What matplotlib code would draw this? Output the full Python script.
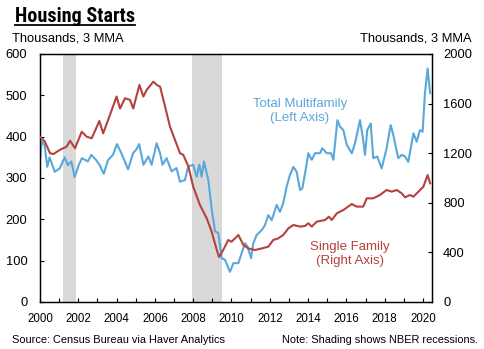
import numpy as np
import matplotlib
matplotlib.use('Agg')
import matplotlib.pyplot as plt
from matplotlib.lines import Line2D

plt.rcParams['font.family'] = ['Liberation Sans', 'DejaVu Sans']

# Total multifamily starts (left axis), thousands, 3 MMA
multi_years = [2000.0, 2000.1, 2000.24, 2000.38, 2000.5, 2000.77, 2001.03, 2001.29, 2001.46, 2001.64,
               2001.81, 2002.02, 2002.19, 2002.5, 2002.68, 2002.94, 2003.12, 2003.33, 2003.55, 2003.81,
               2004.02, 2004.25, 2004.6, 2004.86, 2005.03, 2005.18, 2005.4, 2005.66, 2005.83, 2006.09,
               2006.27, 2006.4, 2006.61, 2006.87, 2007.13, 2007.31, 2007.57, 2007.74, 2008.0, 2008.18,
               2008.32, 2008.44, 2008.56, 2008.79, 2008.97, 2009.14, 2009.31, 2009.49, 2009.66, 2009.92,
               2010.1, 2010.36, 2010.53, 2010.7, 2010.84, 2011.02, 2011.14, 2011.31, 2011.58, 2011.75,
               2011.92, 2012.1, 2012.36, 2012.53, 2012.7, 2012.88, 2013.05, 2013.23, 2013.4, 2013.58,
               2013.7, 2013.84, 2014.01, 2014.19, 2014.36, 2014.62, 2014.74, 2014.97, 2015.2, 2015.32,
               2015.53, 2015.67, 2015.84, 2016.02, 2016.28, 2016.45, 2016.71, 2016.85, 2016.97, 2017.09,
               2017.27, 2017.4, 2017.61, 2017.84, 2018.1, 2018.31, 2018.45, 2018.63, 2018.71, 2018.89,
               2019.06, 2019.23, 2019.5, 2019.67, 2019.84, 2019.98, 2020.1, 2020.24, 2020.37]
multi_vals = [344, 388, 380, 327, 350, 315, 323, 350, 331, 340,
              302, 331, 348, 340, 356, 343, 331, 310, 343, 356,
              382, 360, 321, 360, 369, 382, 332, 352, 332, 384,
              360, 332, 348, 316, 324, 291, 295, 328, 332, 303,
              332, 303, 340, 295, 223, 171, 167, 106, 102, 73,
              94, 94, 118, 142, 134, 106, 142, 162, 174, 186,
              210, 198, 235, 218, 239, 279, 307, 327, 315, 271,
              275, 311, 360, 344, 360, 360, 372, 360, 360, 344,
              440, 424, 416, 380, 360, 384, 440, 400, 356, 416,
              432, 348, 352, 323, 372, 428, 404, 364, 348, 356,
              352, 339, 408, 388, 416, 412, 505, 565, 505]

# Single family starts (right axis), thousands, 3 MMA
single_years = [2000.0, 2000.26, 2000.52, 2000.7, 2001.04, 2001.39, 2001.57, 2001.83, 2002.18, 2002.44,
                2002.7, 2003.1, 2003.3, 2003.65, 2004.0, 2004.18, 2004.44, 2004.7, 2004.87, 2005.19,
                2005.4, 2005.57, 2005.92, 2006.1, 2006.27, 2006.53, 2006.79, 2007.05, 2007.31, 2007.48,
                2007.75, 2008.0, 2008.35, 2008.7, 2008.96, 2009.23, 2009.35, 2009.57, 2009.83, 2010.0,
                2010.36, 2010.62, 2010.88, 2011.23, 2011.58, 2011.92, 2012.18, 2012.44, 2012.7, 2012.97,
                2013.23, 2013.58, 2013.84, 2014.01, 2014.19, 2014.45, 2014.88, 2015.09, 2015.23, 2015.5,
                2015.84, 2016.28, 2016.54, 2016.88, 2017.06, 2017.4, 2017.75, 2018.1, 2018.37, 2018.63,
                2018.89, 2019.06, 2019.32, 2019.5, 2019.76, 2020.02, 2020.24, 2020.37]
single_vals = [1333, 1293, 1200, 1193, 1227, 1253, 1300, 1240, 1373, 1333,
               1320, 1460, 1360, 1507, 1657, 1560, 1643, 1630, 1560, 1750,
               1657, 1710, 1777, 1750, 1737, 1577, 1413, 1307, 1200, 1187,
               1093, 930, 783, 677, 570, 420, 363, 420, 500, 486,
               540, 460, 432, 419, 432, 446, 500, 513, 540, 594,
               621, 608, 613, 635, 608, 648, 661, 688, 661, 715,
               742, 790, 769, 769, 836, 836, 863, 903, 890, 903,
               876, 844, 863, 849, 890, 930, 1024, 957]

recessions = [(2001.2, 2001.9), (2007.95, 2009.5)]

blue = '#5aa7db'
red = '#b3423f'

fig = plt.figure(figsize=(4.84, 3.49), dpi=100)
ax = fig.add_axes([0.0826, 0.1347, 0.81, 0.7106])
ax2 = ax.twinx()

for start, end in recessions:
    ax.axvspan(start, end, color='#d9d9d9', lw=0, zorder=0)

ax.plot(multi_years, multi_vals, color=blue, lw=1.5, zorder=3)
ax2.plot(single_years, single_vals, color=red, lw=1.5, zorder=3)

ax.set_xlim(2000, 2020.47)
ax.set_ylim(0, 600)
ax2.set_ylim(0, 2000)
ax.set_yticks(np.arange(0, 601, 100))
ax2.set_yticks(np.arange(0, 2001, 400))
ax.set_xticks(np.arange(2000, 2021, 1))
ax.set_xticklabels([str(y) if y % 2 == 0 else '' for y in range(2000, 2021)])

ax.tick_params(axis='y', direction='in', length=3, width=0.8, labelsize=9.3, pad=9)
ax.tick_params(axis='x', direction='in', length=3, width=0.8, labelsize=8.3, pad=8)
ax2.tick_params(axis='y', direction='in', length=3, width=0.8, labelsize=9.3, pad=8)
for a in (ax, ax2):
    for s in a.spines.values():
        s.set_linewidth(0.9)

ax.text(2013.58, 462, 'Total Multifamily\n(Left Axis)', color=blue, fontsize=9.5,
        ha='center', va='center', linespacing=1.15)
ax.text(2016.19, 116, 'Single Family\n(Right Axis)', color=red, fontsize=9.5,
        ha='center', va='center', linespacing=1.15)

title = fig.text(0.031, 0.937, 'Housing Starts', fontsize=14.5, fontweight='bold',
                 family=['Roboto Condensed', 'Liberation Sans Narrow', 'Liberation Sans'],
                 ha='left', va='baseline')
fig.text(0.025, 0.89, 'Thousands, 3 MMA', fontsize=9.3, ha='left', va='center')
fig.text(0.975, 0.89, 'Thousands, 3 MMA', fontsize=9.3, ha='right', va='center')
fig.text(0.025, 0.027, 'Source: Census Bureau via Haver Analytics', fontsize=7.9, ha='left', va='center')
fig.text(0.987, 0.027, 'Note: Shading shows NBER recessions.', fontsize=7.9, ha='right', va='center')

# underline the title to its drawn width
fig.canvas.draw()
bb = title.get_window_extent().transformed(fig.transFigure.inverted())
fig.add_artist(Line2D([bb.x0, bb.x1], [0.927, 0.927], color='black', lw=1.3))

fig.savefig('out.png', dpi=100)
